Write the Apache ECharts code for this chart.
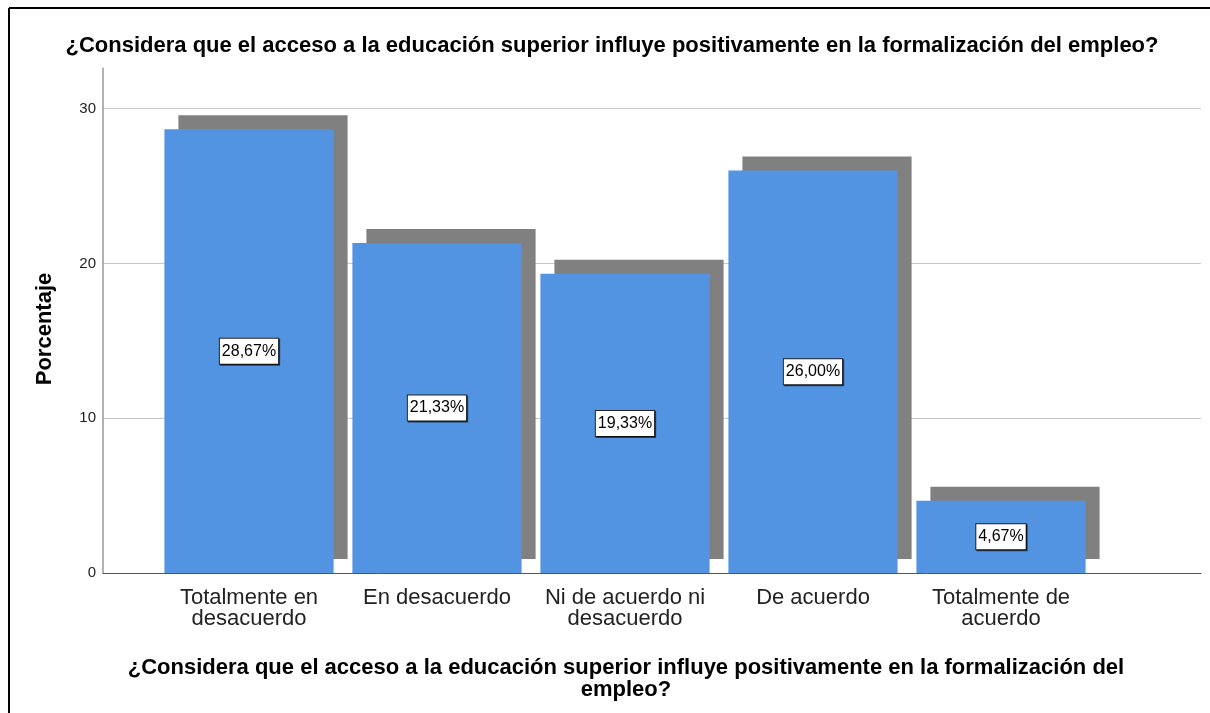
<!DOCTYPE html>
<html>
<head>
<meta charset="utf-8">
<script src="https://cdn.jsdelivr.net/npm/echarts@6/dist/echarts.min.js"></script>
<style>
html,body{margin:0;padding:0;background:#fff;}
#chart{width:1210px;height:713px;}
</style>
</head>
<body>
<div id="chart"></div>
<script>
const categories = ['Totalmente en\ndesacuerdo', 'En desacuerdo', 'Ni de acuerdo ni\ndesacuerdo', 'De acuerdo', 'Totalmente de\nacuerdo'];
const percentages = [28.67, 21.33, 19.33, 26.00, 4.67];
const yTicks = [0, 10, 20, 30];
const chartTitle = '¿Considera que el acceso a la educación superior influye positivamente en la formalización del empleo?';
const xAxisTitle = '¿Considera que el acceso a la educación superior influye positivamente en la formalización del\nempleo?';
const yAxisTitle = 'Porcentaje';

const FONT = '"Liberation Sans", Arial, sans-serif';
const Y_MAX = 32.63;
const SHADOW = 14;

const chart = echarts.init(document.getElementById('chart'), null, {renderer: 'canvas'});

const option = {
  backgroundColor: '#ffffff',
  animation: false,
  title: [
    {
      text: chartTitle,
      left: 607, top: 30, textAlign: 'center',
      textStyle: {fontFamily: FONT, fontSize: 22, fontWeight: 'bold', color: '#000'}
    },
    {
      text: xAxisTitle,
      left: 621, top: 652, textAlign: 'center',
      textStyle: {fontFamily: FONT, fontSize: 22, fontWeight: 'bold', color: '#000', lineHeight: 22}
    }
  ],
  grid: [
    {left: 103, right: 9, top: 68, bottom: 140, containLabel: false},
    {left: 155, width: 940, top: 68, bottom: 140, containLabel: false}
  ],
  xAxis: [
    {
      gridIndex: 0, type: 'value', min: 0, max: 1,
      axisLine: {show: true, onZero: false, lineStyle: {color: '#555', width: 1}},
      axisTick: {show: false}, axisLabel: {show: false}, splitLine: {show: false}
    },
    {
      gridIndex: 1, type: 'category', data: categories,
      axisLine: {show: false}, axisTick: {show: false},
      axisLabel: {
        interval: 0, margin: 14,
        fontFamily: FONT, fontSize: 22, color: '#222', lineHeight: 21.5
      }
    }
  ],
  yAxis: [
    {
      gridIndex: 0, type: 'value', min: 0, max: Y_MAX, interval: 10,
      axisLine: {show: true, lineStyle: {color: '#999', width: 1.5}},
      axisTick: {show: false},
      axisLabel: {
        margin: 7, fontFamily: FONT, fontSize: 15, color: '#222',
        formatter: function (v) { return yTicks.indexOf(v) >= 0 ? String(v) : ''; },
        showMaxLabel: false
      },
      splitLine: {show: true, showMaxLine: false, showMinLine: false, lineStyle: {color: '#c8c8c8', width: 1.2}}
    },
    {
      gridIndex: 1, type: 'value', min: 0, max: Y_MAX, interval: 10,
      axisLine: {show: false}, axisTick: {show: false}, axisLabel: {show: false},
      splitLine: {show: false}
    }
  ],
  graphic: [
    {
      type: 'text', x: 45, y: 329, rotation: Math.PI / 2,
      style: {
        text: yAxisTitle, fontFamily: FONT, fontSize: 22, fontWeight: 'bold',
        fill: '#000', align: 'center', verticalAlign: 'middle'
      }
    },
    {type: 'line', shape: {x1: 9, y1: 8, x2: 1210, y2: 8}, style: {stroke: '#000', lineWidth: 2}},
    {type: 'line', shape: {x1: 9, y1: 8, x2: 9, y2: 713}, style: {stroke: '#000', lineWidth: 2}}
  ],
  series: [
    {
      type: 'custom',
      xAxisIndex: 1, yAxisIndex: 1,
      z: 1,
      silent: true,
      data: percentages.map(function (v, i) { return [i, v]; }),
      renderItem: function (params, api) {
        const idx = api.value(0);
        const v = api.value(1);
        const top = api.coord([idx, v]);
        const base = api.coord([idx, 0]);
        const bw = api.size([1, 0])[0] * 0.9;
        return {
          type: 'rect',
          shape: {x: top[0] - bw / 2 + SHADOW, y: top[1] - SHADOW, width: bw, height: base[1] - top[1]},
          style: {fill: '#808080'}
        };
      }
    },
    {
      type: 'bar',
      xAxisIndex: 1, yAxisIndex: 1,
      z: 2,
      data: percentages,
      barCategoryGap: '10%',
      itemStyle: {color: '#5294E2'},
      label: {
        show: true, position: 'inside',
        fontFamily: FONT, fontSize: 16, color: '#000',
        backgroundColor: '#fff', borderColor: '#222', borderWidth: 1,
        padding: [5, 2, 4, 2],
        shadowColor: 'rgba(0,0,0,0.6)', shadowOffsetX: 1, shadowOffsetY: 1, shadowBlur: 0,
        formatter: function (p) { return p.value.toFixed(2).replace('.', ',') + '%'; }
      }
    }
  ]
};

chart.setOption(option);
</script>
</body>
</html>
